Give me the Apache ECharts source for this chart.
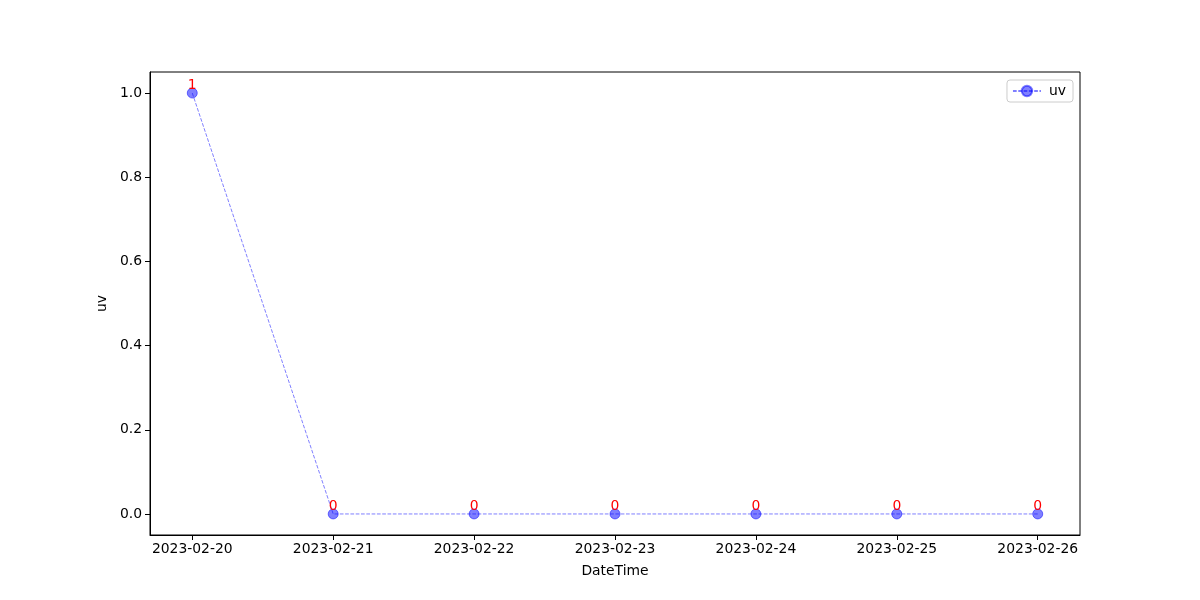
<!DOCTYPE html>
<html>
<head>
<meta charset="utf-8">
<script src="https://cdn.jsdelivr.net/npm/echarts@6/dist/echarts.min.js"></script>
<style>html,body{margin:0;padding:0;background:#fff}#c{width:1200px;height:600px}</style>
</head>
<body>
<div id="c"></div>
<script>
const categories = ['2023-02-20','2023-02-21','2023-02-22','2023-02-23','2023-02-24','2023-02-25','2023-02-26'];
const uvValues = [1, 0, 0, 0, 0, 0, 0];
const yTicks = [0, 0.2, 0.4, 0.6, 0.8, 1.0];

const chart = echarts.init(document.getElementById('c'), null, {renderer: 'canvas'});
const font = 'DejaVu Sans';
const xIdx = categories.map((_, i) => i);
chart.setOption({
  animation: false,
  textStyle: {fontFamily: font},
  grid: {left: 150, right: 120, top: 72, bottom: 65, show: true, borderColor: '#000', borderWidth: 1, backgroundColor: 'transparent'},
  legend: {
    show: true, right: 127, top: 80, orient: 'vertical',
    data: [{name: 'uv'}],
    itemWidth: 28, itemHeight: 13, itemGap: 8,
    textStyle: {fontFamily: font, fontSize: 13.9, color: '#000', padding: [0, 0, 0, 3]},
    borderColor: '#ccc', borderWidth: 1, borderRadius: 3, padding: [4, 7, 4, 5]
  },
  xAxis: {
    type: 'value', min: -0.3, max: 6.3,
    name: 'DateTime', nameLocation: 'middle', nameGap: 29,
    nameTextStyle: {fontFamily: font, fontSize: 13.9, color: '#000'},
    axisLine: {show: true, onZero: false, lineStyle: {color: '#000'}},
    axisTick: {show: true, length: 5, customValues: xIdx, lineStyle: {color: '#000'}},
    axisLabel: {customValues: xIdx, formatter: v => categories[Math.round(v)], fontFamily: font, fontSize: 13.9, color: '#000', margin: 7},
    splitLine: {show: false}
  },
  yAxis: {
    type: 'value', min: -0.05, max: 1.05,
    name: 'uv', nameLocation: 'middle', nameGap: 41,
    nameTextStyle: {fontFamily: font, fontSize: 13.9, color: '#000'},
    axisLine: {show: true, onZero: false, lineStyle: {color: '#000'}},
    axisTick: {show: true, length: 5, customValues: yTicks, lineStyle: {color: '#000'}},
    axisLabel: {customValues: yTicks, formatter: v => v.toFixed(1), fontFamily: font, fontSize: 13.9, color: '#000', margin: 8},
    splitLine: {show: false}
  },
  series: [{
    name: 'uv', type: 'line',
    data: uvValues.map((v, i) => [i, v]),
    symbol: 'circle', symbolSize: 10,
    itemStyle: {color: 'rgba(0,0,255,0.5)', borderWidth: 1, borderColor: 'rgba(0,0,255,0.5)'},
    lineStyle: {color: 'rgba(0,0,255,0.5)', width: 1, type: [3.7, 1.6]},
    label: {show: true, position: 'top', distance: -5, color: 'red', fontFamily: font, fontSize: 13.9, formatter: p => String(p.value[1])}
  }]
});
</script>
</body>
</html>
